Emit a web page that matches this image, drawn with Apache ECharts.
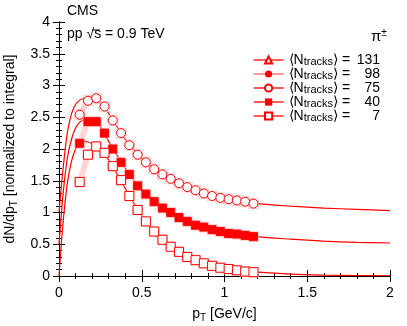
<!DOCTYPE html>
<html>
<head>
<meta charset="UTF-8">
<title>CMS pi spectra</title>
<script src="https://cdn.jsdelivr.net/npm/echarts@6/dist/echarts.min.js"></script>
<style>
  body { margin: 0; background: #ffffff; }
  #main { width: 407px; height: 326px; }
</style>
</head>
<body>
<div id="main"></div>
<script>
// pT bin centres [GeV/c]
var ptBins = [0.125, 0.175, 0.225, 0.275, 0.325, 0.375, 0.425, 0.475, 0.525, 0.575, 0.625,
              0.675, 0.725, 0.775, 0.825, 0.875, 0.925, 0.975, 1.025, 1.075, 1.125, 1.175];
// measured points (shifted classes as drawn)
var nt75 = [2.54, 2.76, 2.80, 2.67, 2.45, 2.25, 2.06, 1.91, 1.79, 1.68, 1.60,
            1.53, 1.46, 1.40, 1.35, 1.30, 1.26, 1.23, 1.21, 1.19, 1.17, 1.14];
var nt40 = [2.09, 2.43, 2.43, 2.25, 2.00, 1.79, 1.60, 1.42, 1.29, 1.17, 1.07,
            1.00, 0.92, 0.86, 0.80, 0.77, 0.73, 0.70, 0.67, 0.66, 0.64, 0.62];
var nt7  = [1.48, 1.91, 2.04, 1.94, 1.73, 1.51, 1.26, 1.04, 0.86, 0.70, 0.57,
            0.46, 0.38, 0.30, 0.25, 0.20, 0.16, 0.13, 0.11, 0.09, 0.07, 0.06];
// fit curves
var fitX   = [0, 0.025, 0.05, 0.075, 0.1, 0.125, 0.15, 0.175, 0.2, 0.25, 0.3, 0.4, 0.5,
              0.6, 0.7, 0.8, 0.9, 1.0, 1.1, 1.2, 1.4, 1.6, 1.8, 2.0];
var fit75  = [1.0, 1.7, 2.25, 2.55, 2.70, 2.77, 2.80, 2.81, 2.80, 2.72, 2.56, 2.15, 1.85,
              1.64, 1.50, 1.375, 1.28, 1.22, 1.18, 1.14, 1.10, 1.07, 1.05, 1.03];
var fit40  = [0.5, 1.3, 1.85, 2.15, 2.33, 2.42, 2.46, 2.46, 2.44, 2.35, 2.12, 1.70, 1.35,
              1.12, 0.96, 0.83, 0.75, 0.685, 0.65, 0.615, 0.58, 0.55, 0.53, 0.52];
var fit7   = [0, 0.85, 1.45, 1.8, 2.0, 2.09, 2.12, 2.11, 2.08, 1.97, 1.83, 1.38, 0.95,
              0.63, 0.41, 0.27, 0.18, 0.12, 0.085, 0.06, 0.03, 0.015, 0.008, 0.004];
var legendNames = ['131', '98', '75', '40', '7'];

var RED = '#ff0000';
var PINK = '#fcc4c4';
var FONT = 'Liberation Sans';

function pairs(xs, ys) { return ys.map(function (y, i) { return [xs[i], y]; }); }

var chart = echarts.init(document.getElementById('main'));

function frameAxis(extra) {
  return Object.assign({
    type: 'value',
    axisLine: { show: true, lineStyle: { color: '#000', width: 1 } },
    axisTick: { show: true, inside: true, length: 6, lineStyle: { color: '#000' } },
    minorTick: { show: true, splitNumber: 5, length: 3, lineStyle: { color: '#000' } },
    splitLine: { show: false },
    axisLabel: { show: false }
  }, extra);
}

var labelStyle = { show: true, color: '#000', fontFamily: FONT, fontSize: 14 };
var subRich = { s: { fontSize: 10, verticalAlign: 'bottom', padding: [8, 0, 0, 0], fontFamily: FONT } };

var series = [];
// fit curves
[fit75, fit40, fit7].forEach(function (f) {
  series.push({
    type: 'line', data: pairs(fitX, f), smooth: 0.3, symbol: 'none', silent: true,
    lineStyle: { color: RED, width: 1.2 }, z: 2
  });
});
// pale low-pT bands
[nt75, nt40, nt7].forEach(function (d) {
  series.push({
    type: 'line', data: pairs(ptBins, d).slice(0, 3), symbol: 'none', silent: true,
    lineStyle: { color: '#fcd6d6', width: 6 }, z: 1
  });
});
// systematic boxes
[nt75, nt40, nt7].forEach(function (d) {
  series.push({
    type: 'scatter', data: pairs(ptBins, d), symbol: 'rect', symbolSize: 10, silent: true,
    itemStyle: { color: 'rgba(0,0,0,0)', borderColor: PINK, borderWidth: 1 }, z: 3
  });
});
// legend-only classes
series.push({ name: legendNames[0], type: 'line', data: [], symbol: 'triangle', symbolSize: 9,
  lineStyle: { color: RED, width: 1.5 }, itemStyle: { color: '#fff', borderColor: RED, borderWidth: 1 } });
series.push({ name: legendNames[1], type: 'line', data: [], symbol: 'circle', symbolSize: 9,
  lineStyle: { color: '#ff6060', width: 1.5 }, itemStyle: { color: RED, borderColor: RED } });
// measured classes
series.push({ name: legendNames[2], type: 'line', data: pairs(ptBins, nt75), symbol: 'circle',
  symbolSize: 9, showAllSymbol: true, lineStyle: { width: 0, color: RED }, z: 5,
  itemStyle: { color: '#fff', borderColor: RED, borderWidth: 1 } });
series.push({ name: legendNames[3], type: 'line', data: pairs(ptBins, nt40), symbol: 'rect',
  symbolSize: 8, showAllSymbol: true, lineStyle: { width: 0, color: RED }, z: 5,
  itemStyle: { color: RED, borderColor: RED } });
series.push({ name: legendNames[4], type: 'line', data: pairs(ptBins, nt7), symbol: 'rect',
  symbolSize: 9, showAllSymbol: true, lineStyle: { width: 0, color: RED }, z: 5,
  itemStyle: { color: '#fff', borderColor: RED, borderWidth: 1 } });

var padNum = { '131': '131', '98': ' 98', '75': ' 75', '40': ' 40', '7': '  7' };

var option = {
  animation: false,
  backgroundColor: '#fff',
  textStyle: { fontFamily: FONT },
  grid: { left: 59, right: 17, top: 22, bottom: 50, containLabel: false, outerBoundsMode: 'none' },
  legend: {
    data: legendNames.map(function (n) {
      return { name: n, lineStyle: { width: 1.3, color: n === '98' ? '#ff6060' : RED, opacity: 1 } };
    }),
    orient: 'vertical', right: 27, top: 53, itemGap: 0, itemWidth: 30, itemHeight: 9,
    selectedMode: false, padding: 0,
    formatter: function (n) { return '\u27E8N{s|tracks}\u27E9 = {n|' + padNum[n] + '}'; },
    textStyle: {
      fontFamily: FONT, fontSize: 14, color: '#000',
      rich: {
        s: { fontSize: 11, verticalAlign: 'bottom', padding: [3, 0, 0, 0], fontFamily: FONT },
        n: { fontSize: 14, fontFamily: FONT, width: 26, align: 'right' }
      }
    }
  },
  xAxis: [
    frameAxis({
      min: 0, max: 2, interval: 0.5, position: 'bottom',
      axisLabel: Object.assign({ margin: 10, formatter: function (v) { return String(v); } }, labelStyle),
      name: 'p{s|T} [GeV/c]', nameLocation: 'middle', nameGap: 29,
      nameTextStyle: { fontFamily: FONT, fontSize: 14, color: '#000', rich: subRich }
    }),
    frameAxis({ min: 0, max: 2, interval: 0.5, position: 'top' })
  ],
  yAxis: [
    frameAxis({
      min: 0, max: 4, interval: 0.5, position: 'left',
      axisLabel: Object.assign({ margin: 9 }, labelStyle),
      name: 'dN/dp{s|T} [normalized to integral]', nameLocation: 'middle', nameGap: 38,
      nameTextStyle: { fontFamily: FONT, fontSize: 14, color: '#000', rich: subRich }
    }),
    frameAxis({ min: 0, max: 4, interval: 0.5, position: 'right' })
  ],
  graphic: [
    { type: 'text', left: 67, top: 4, style: { text: 'CMS', fontFamily: FONT, fontSize: 14, fill: '#000' } },
    { type: 'text', left: 67, top: 27, style: { text: 'pp \u221As = 0.9 TeV', fontFamily: FONT, fontSize: 14, fill: '#000' } },
    { type: 'line', shape: { x1: 92, y1: 30, x2: 100, y2: 30 }, style: { stroke: '#000', lineWidth: 1 } },
    { type: 'text', left: 371, top: 28, style: {
        text: '\u03C0{u|\u00B1}', fontFamily: FONT, fontSize: 15, fill: '#000',
        rich: { u: { fontSize: 10, verticalAlign: 'top', padding: [0, 0, 8, 0], fontFamily: FONT } } } }
  ],
  series: series
};

chart.setOption(option);
</script>
</body>
</html>
